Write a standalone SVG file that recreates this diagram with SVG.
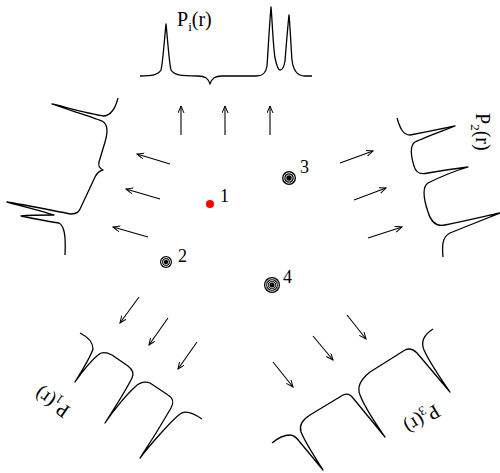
<svg xmlns="http://www.w3.org/2000/svg" width="500" height="473" viewBox="0 0 500 473">
<defs>
<style>
.spec{fill:none;stroke:#000;stroke-width:1.3;stroke-linejoin:round}
.arr{fill:none;stroke:#000;stroke-width:1.1;marker-end:url(#ah)}
.lbl{font-family:"Liberation Serif","Times New Roman",serif;font-size:20px;fill:#000}
.num{font-family:"Liberation Serif","Times New Roman",serif;font-size:18px;fill:#000}
</style>
<marker id="ah" markerUnits="userSpaceOnUse" markerWidth="10" markerHeight="8" refX="7" refY="3" orient="auto">
<path d="M0,0 L7,3 L0,6" fill="none" stroke="#000" stroke-width="1"/>
</marker>
</defs>
<rect width="500" height="473" fill="#fff"/>

<g id="spectrum-top">
<path class="spec" d="M140,76 C152,76 158,75 161,70 C163,62 165,32 166,24 C167,32 169,62 171,70 C174,75 180,76 198,76 C205,76 208,78 210,84 C212,78 215,76 222,76 L256,76 C263,76 266,73 267,66 C268,52 270,16 271,7 C272,16 273,45 275,58 C277,67 279,70 280,70 C282,70 284,67 285,61 C286,49 288,23 289,15 C290,23 291,48 292,60 C293,69 296,76 305,76 L312,76"/>
<text class="lbl" x="177" y="26">P<tspan font-size="13" dy="5">i</tspan><tspan dy="-5">(r)</tspan></text>
</g>

<g id="spectrum-left">
<path class="spec" d="M118,98 C116,106 112,115 104,116 C90,114 65,107 52,104 C65,109 90,116 102,121 C108,124 108,132 105,142 L99,162 C98,166 99,168 103,170 C99,171 97,173 95,177 L81,207 C79,212 77,214 71,214 C50,210 20,204 7,202 C22,206 42,211 54,215 C45,215 30,215 21,216 C35,219 52,222 59,223 C64,226 66,234 65,255"/>
</g>

<g id="spectrum-right">
<path class="spec" d="M397,118 C400,128 403,135 410,135 C425,132 445,128 455,126 C445,130 425,137 415,142 C409,146 411,156 414,166 C416,173 420,175 428,173 C445,170 460,168 468,167 C458,170 440,177 428,183 C422,187 424,200 428,212 C431,222 436,227 445,225 C465,221 490,215 500,213 C490,217 465,227 450,233 C442,237 442,246 443,257"/>
<text class="lbl" transform="translate(476,113) rotate(90)">P<tspan font-size="13" dy="5">2</tspan><tspan dy="-5">(r)</tspan></text>
</g>

<g id="spectrum-bottom-left">
<path class="spec" d="M80,333 C88,337 93,342 93,349 C90,358 80,374 75,382 C82,372 92,360 98,355 C101,352 106,352 112,355 L128,366 C133,370 134,374 132,378 C125,392 112,412 105,423 C113,411 127,394 135,387 C139,383 144,381 150,383 L168,395 C173,398 174,403 171,408 C163,422 148,446 140,458 C149,446 172,420 180,414 C185,410 192,412 202,419"/>
<text class="lbl" transform="translate(71,408) rotate(215)">P<tspan font-size="13" dy="5">1</tspan><tspan dy="-5">(r)</tspan></text>
</g>

<g id="spectrum-bottom-right">
<path class="spec" d="M272,443 C278,438 284,435 290,435 C294,435 296,437 299,441 L323,470 C318,462 306,444 301,432 C299,426 302,420 310,415 L343,395 C347,393 350,394 353,398 L385,437 C378,427 365,408 360,395 C357,388 360,380 370,372 L405,350 C409,348 413,349 417,353 L450,392 C443,382 430,363 424,350 C421,343 422,336 433,329"/>
<text class="lbl" transform="translate(435,404) rotate(149)">P<tspan font-size="13" dy="5">3</tspan><tspan dy="-5">(r)</tspan></text>
</g>

<g id="connectors">
<line class="arr" x1="181" y1="135" x2="181" y2="106"/>
<line class="arr" x1="225" y1="135" x2="225" y2="106"/>
<line class="arr" x1="270" y1="135" x2="270" y2="106"/>
<line class="arr" x1="170" y1="164" x2="137" y2="154"/>
<line class="arr" x1="160" y1="199" x2="126" y2="189"/>
<line class="arr" x1="148" y1="237" x2="113" y2="227"/>
<line class="arr" x1="340" y1="163" x2="373" y2="151"/>
<line class="arr" x1="354" y1="200" x2="386" y2="188"/>
<line class="arr" x1="368" y1="238" x2="402" y2="227"/>
<line class="arr" x1="139" y1="297" x2="120" y2="323"/>
<line class="arr" x1="168" y1="318" x2="149" y2="345"/>
<line class="arr" x1="197" y1="342" x2="178" y2="369"/>
<line class="arr" x1="347" y1="315" x2="366" y2="339"/>
<line class="arr" x1="313" y1="336" x2="333" y2="360"/>
<line class="arr" x1="273" y1="362" x2="293" y2="387"/>
</g>

<g id="point-1">
<circle cx="210" cy="204" r="4" fill="#f00"/>
<text class="num" x="220" y="202">1</text>
</g>
<g id="point-2">
<circle cx="166" cy="262" r="6" fill="#000"/>
<circle cx="166" cy="262" r="4.4" fill="none" stroke="#fff" stroke-width="0.9"/>
<circle cx="166" cy="262" r="2.7" fill="none" stroke="#fff" stroke-width="0.7"/>
<text class="num" x="178" y="262">2</text>
</g>
<g id="point-3">
<circle cx="289" cy="178" r="7" fill="#000"/>
<circle cx="289" cy="178" r="5.2" fill="none" stroke="#fff" stroke-width="0.9"/>
<circle cx="289" cy="178" r="3.2" fill="none" stroke="#fff" stroke-width="0.8"/>
<text class="num" x="300" y="173">3</text>
</g>
<g id="point-4">
<circle cx="272" cy="285" r="8" fill="#000"/>
<circle cx="272" cy="285" r="6.3" fill="none" stroke="#fff" stroke-width="0.9"/>
<circle cx="272" cy="285" r="4.5" fill="none" stroke="#fff" stroke-width="0.8"/>
<circle cx="272" cy="285" r="2.9" fill="none" stroke="#fff" stroke-width="0.7"/>
<text class="num" x="283" y="283">4</text>
</g>
</svg>
